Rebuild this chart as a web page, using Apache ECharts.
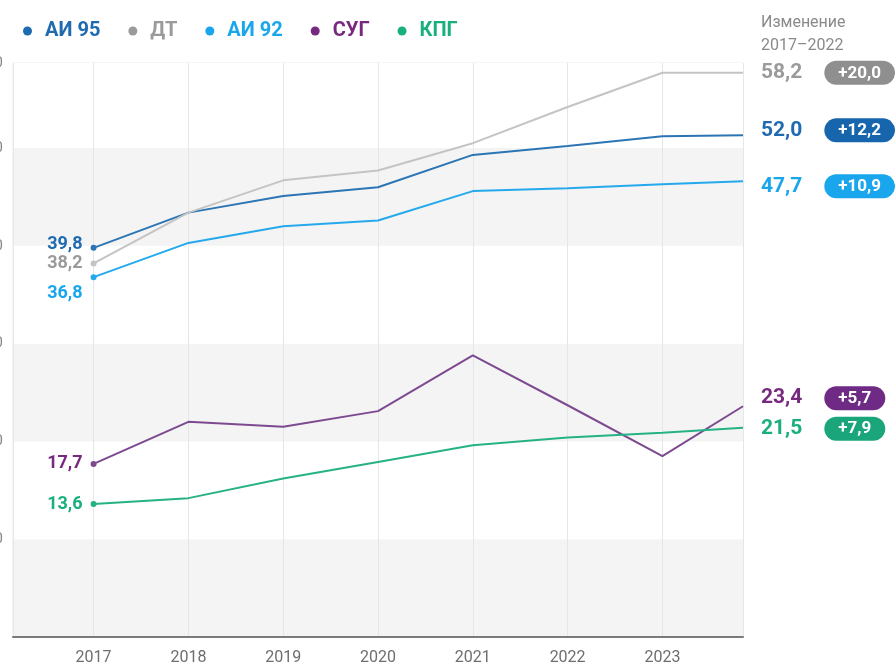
<!DOCTYPE html>
<html>
<head>
<meta charset="utf-8">
<script src="https://cdn.jsdelivr.net/npm/echarts@6/dist/echarts.min.js"></script>
<style>
  html, body { margin: 0; padding: 0; background: #fff; }
  #chart { width: 895px; height: 666px; }
</style>
</head>
<body>
<div id="chart"></div>
<script>
// данные
var names = ['АИ 95', 'ДТ', 'АИ 92', 'СУГ', 'КПГ'];
var xPoints = [2017, 2018, 2019, 2020, 2021, 2022, 2023, 2023.85];

var ai95 = [39.8, 43.4, 45.1, 46.0, 49.3, 50.2, 51.2, 51.3];
var dt   = [38.2, 43.4, 46.7, 47.7, 50.5, 54.2, 57.7, 57.7];
var ai92 = [36.8, 40.3, 42.0, 42.6, 45.6, 45.9, 46.3, 46.6];
var sug  = [17.7, 22.0, 21.5, 23.1, 28.8, 23.7, 18.5, 23.6];
var kpg  = [13.6, 14.2, 16.2, 17.9, 19.6, 20.4, 20.9, 21.4];

var endValues = [52.0, 58.2, 47.7, 23.4, 21.5];
var changes   = [12.2, 20.0, 10.9, 5.7, 7.9];

// оформление
var textColors  = ['#1e6bb0', '#9a9a9a', '#1aa6ec', '#77297f', '#1aaf7f'];
var lineColors  = ['#2b75b5', '#c4c4c4', '#25a9ec', '#7d4a90', '#26b285'];
var badgeColors = ['#1766ad', '#8f8f8f', '#1aa6ec', '#6f2a86', '#1ba57a'];
var startOffsets = [-3, 0, 16, 0, 0];
var endOffsets   = [-5, 0, 5, -8, 1];

var allValues = [ai95, dt, ai92, sug, kpg];
var fontFamily = 'Roboto, "Noto Sans", sans-serif';

function fmt(v) {
    return v.toFixed(1).replace('.', ',');
}

var series = allValues.map(function (vals, s) {
    var last = vals.length - 1;
    return {
        name: names[s],
        type: 'line',
        symbol: 'circle',
        symbolSize: 0,
        itemStyle: { color: textColors[s] },
        lineStyle: { color: lineColors[s], width: 2 },
        emphasis: { disabled: true },
        data: xPoints.map(function (x, i) {
            var item = { value: [x, vals[i]] };
            if (i === 0) {
                item.symbolSize = 6;
                item.itemStyle = { color: lineColors[s] };
                item.label = {
                    show: true,
                    position: 'left',
                    distance: 8,
                    offset: [0, startOffsets[s]],
                    formatter: fmt(vals[0]),
                    color: textColors[s],
                    fontSize: 18,
                    fontWeight: 'bold',
                    fontFamily: fontFamily
                };
            }
            if (i === last) {
                item.label = {
                    show: true,
                    position: 'right',
                    distance: 18,
                    offset: [0, endOffsets[s]],
                    formatter: '{v|' + fmt(endValues[s]) + '}{g|}{b|+' + fmt(changes[s]) + '}',
                    rich: {
                        v: { color: textColors[s], fontSize: 21, fontWeight: 'bold', fontFamily: fontFamily },
                        g: { width: 22 },
                        b: {
                            color: '#fff', backgroundColor: badgeColors[s], borderRadius: 12,
                            padding: [4, 14, 3, 14], fontSize: 17, fontWeight: 'bold', fontFamily: fontFamily
                        }
                    }
                };
            }
            return item;
        })
    };
});

var option = {
    animation: false,
    backgroundColor: '#fff',
    title: {
        text: 'Изменение\n2017–2022',
        left: 756,
        top: 6,
        textStyle: {
            color: '#8a8a8a',
            fontSize: 16,
            fontWeight: 'normal',
            lineHeight: 23,
            fontFamily: fontFamily
        }
    },
    legend: {
        left: 18,
        top: 16,
        icon: 'circle',
        itemWidth: 9,
        itemHeight: 9,
        itemGap: 28,
        data: names.map(function (n, i) {
            return { name: n, textStyle: { color: textColors[i] } };
        }),
        textStyle: {
            fontSize: 20,
            fontWeight: 'bold',
            fontFamily: fontFamily,
            padding: [0, 0, 0, 8]
        }
    },
    grid: {
        left: 13,
        right: 152,
        top: 63,
        bottom: 29,
        containLabel: false,
        outerBoundsMode: 'none',
        show: true,
        borderColor: '#ececec',
        borderWidth: 1
    },
    xAxis: {
        type: 'value',
        min: 2016.15,
        max: 2023.85,
        minInterval: 1,
        maxInterval: 1,
        axisLine: { show: true, onZero: false, lineStyle: { color: '#7a7a7a', width: 2 } },
        axisTick: { show: false },
        axisLabel: {
            margin: 13,
            color: '#6e6e6e',
            fontSize: 16,
            fontFamily: fontFamily,
            formatter: function (v) {
                return Number.isInteger(v) ? String(v) : '';
            }
        },
        splitLine: { show: true, lineStyle: { color: '#e6e6e6', width: 1 } }
    },
    yAxis: {
        type: 'value',
        min: 0,
        max: 58.7,
        interval: 10,
        axisLine: { show: false },
        axisTick: { show: false },
        axisLabel: {
            margin: 10,
            color: '#888',
            fontSize: 15,
            fontFamily: fontFamily,
            showMinLabel: false,
            formatter: function (v) { return String(Math.round(v / 10) * 10); }
        },
        splitLine: { show: false },
        splitArea: {
            show: true,
            areaStyle: { color: ['#f4f4f4', '#ffffff'] }
        }
    },
    series: series
};

var chart = echarts.init(document.getElementById('chart'));
chart.setOption(option);
</script>
</body>
</html>
